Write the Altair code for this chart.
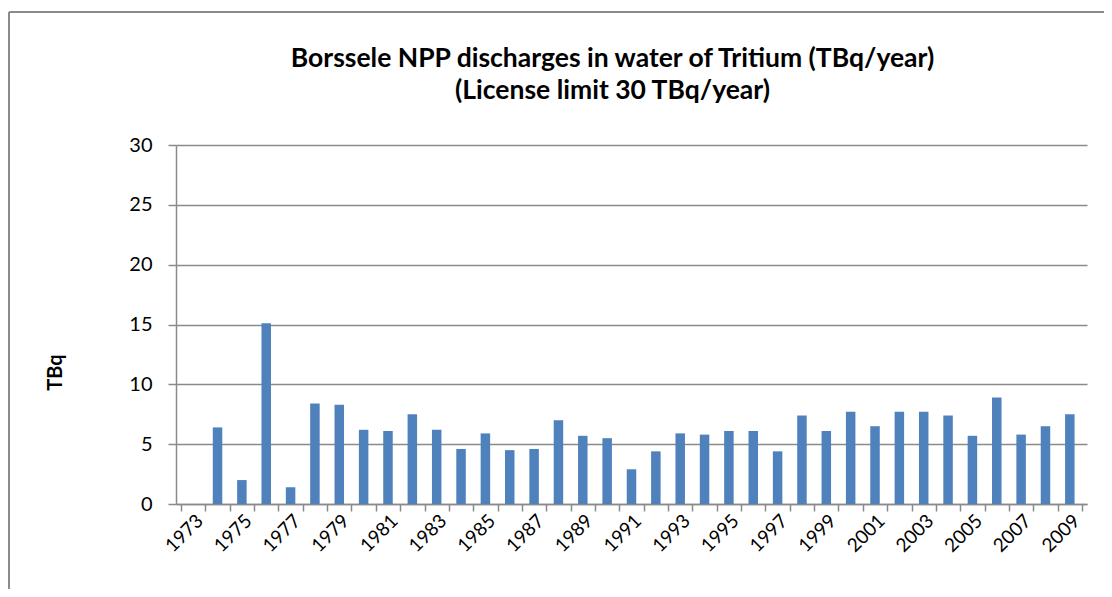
import altair as alt
import pandas as pd

years = list(range(1973, 2010))
tbq = [None, 6.4, 2.0, 15.1, 1.4, 8.4, 8.3, 6.2, 6.1, 7.5, 6.2, 4.6, 5.9,
       4.5, 4.6, 7.0, 5.7, 5.5, 2.9, 4.4, 5.9, 5.8, 6.1, 6.1, 4.4,
       7.4, 6.1, 7.7, 6.5, 7.7, 7.7, 7.4, 5.7, 8.9, 5.8, 6.5, 7.5]
label_years = list(range(1973, 2010, 2))
y_ticks = [0, 5, 10, 15, 20, 25, 30]
title_lines = ["Borssele NPP discharges in water of Tritium (TBq/year)",
               "(License limit 30 TBq/year)"]

df = pd.DataFrame({"year": years, "tbq": tbq})
edges = [y - 0.5 for y in years] + [years[-1] + 0.5]

FONT = "Lato"
GRID = "#8a8a8a"

xscale = alt.Scale(domain=[years[0] - 0.5, years[-1] + 0.5], nice=False, zero=False)

bars = alt.Chart(df).mark_bar(size=9.5, color="#4F81BD").encode(
    x=alt.X("year:Q", scale=xscale,
            axis=alt.Axis(orient="bottom", values=label_years, format="d",
                          labelAngle=-45, labelFontSize=19, labelFont=FONT,
                          labelColor="#000000", labelPadding=7, ticks=False,
                          grid=False, domainColor=GRID, domainWidth=1.5,
                          title=None, labelOverlap=False)),
    y=alt.Y("tbq:Q", scale=alt.Scale(domain=[0, 30], nice=False),
            axis=alt.Axis(values=y_ticks, grid=True, gridColor=GRID, gridWidth=1.5,
                          domainColor=GRID, domainWidth=1.5, tickColor=GRID,
                          tickWidth=1.5, tickSize=8, labelFontSize=20, labelFont=FONT,
                          labelColor="#000000", labelPadding=16,
                          title="TBq", titleFont=FONT, titleFontSize=20,
                          titleFontWeight="bold", titleColor="#000000",
                          titleAngle=-90, titleX=-121, titleY=227,
                          titleAlign="center", titleBaseline="middle")),
)

tick_df = pd.DataFrame({"year": edges})
tick_layer = alt.Chart(tick_df).mark_rule(opacity=0).encode(
    x=alt.X("year:Q", scale=xscale,
            axis=alt.Axis(orient="bottom", values=edges, labels=False,
                          ticks=True, tickSize=7, tickColor=GRID, tickWidth=1.5,
                          domain=False, grid=False, title=None)),
)

frame_left = alt.Chart(df).mark_rule(color=GRID, strokeWidth=2).encode(
    x=alt.value(-167), y=alt.value(-133), y2=alt.value(460))
frame_top = alt.Chart(df).mark_rule(color=GRID, strokeWidth=2).encode(
    x=alt.value(-167), x2=alt.value(940), y=alt.value(-133))

chart = alt.layer(bars, tick_layer, frame_left, frame_top).resolve_axis(
    x="independent"
).properties(
    width=911, height=359,
    autosize=alt.AutoSizeParams(type="none"),
    padding={"left": 168, "top": 137, "right": 17, "bottom": 85},
    title=alt.TitleParams(text=title_lines, anchor="middle", frame="group",
                          dx=-19, offset=-93, fontSize=26.5, font=FONT,
                          fontWeight="bold", color="#000000", lineHeight=32),
).configure_view(stroke=None)

chart.save("out.html", embed_options={"renderer": "svg", "actions": False})
